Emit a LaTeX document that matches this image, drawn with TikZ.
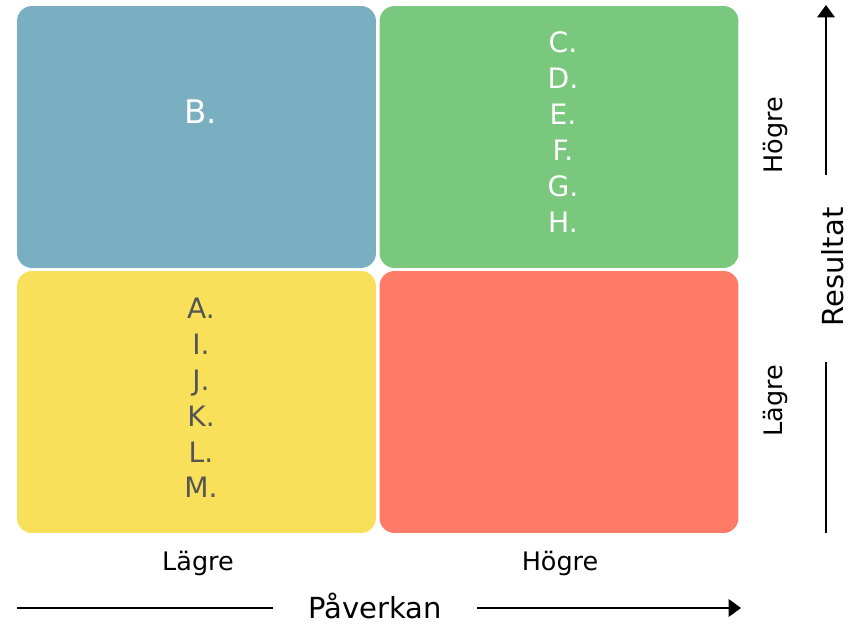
\documentclass[tikz,border=0pt]{standalone}
\usepackage{fontspec}
\setmainfont{DejaVu Sans}
\usetikzlibrary{arrows.meta}
\definecolor{quadblue}{RGB}{121,175,192}
\definecolor{quadgreen}{RGB}{122,200,126}
\definecolor{quadyellow}{RGB}{249,224,90}
\definecolor{quadred}{RGB}{254,123,103}
\definecolor{listgray}{RGB}{85,85,85}
\tikzset{
  quad/.style={rectangle, rounded corners=0.3cm, minimum width=7.18cm, minimum height=5.24cm, inner sep=0pt},
  items/.style={align=center, font=\fontsize{16}{20.4}\selectfont},
  axislabel/.style={font=\fontsize{14.5}{17}\selectfont},
  axistitle/.style={font=\fontsize{16.5}{19}\selectfont},
}
\begin{document}
\begin{tikzpicture}[x=0.02cm,y=-0.02cm]
  \useasboundingbox (0,0) rectangle (857,624);

  % quadrants
  \node[quad, fill=quadblue] (lowhigh) at (196.5,137) {};
  \node[quad, fill=quadgreen] (highhigh) at (559,137) {};
  \node[quad, fill=quadyellow] (lowlow) at (196.5,402) {};
  \node[quad, fill=quadred] (highlow) at (559,402) {};

  \node[items, text=white, font=\fontsize{18.5}{22}\selectfont] (listb) at (201,112) {B.};
  \node[items, text=white] (listc) at (563,132) {C.\\D.\\E.\\F.\\G.\\H.};
  \node[items, text=listgray] (lista) at (201,398) {A.\\I.\\J.\\K.\\L.\\M.};

  % y axis
  \coordinate (ytop) at (826,5);
  \coordinate (ymid1) at (826,175);
  \coordinate (ymid2) at (826,362);
  \coordinate (ybot) at (826,533);
  \draw[line width=0.75pt, -{Triangle[width=10pt,length=7pt]}] (ymid1) -- (ytop);
  \draw[line width=0.75pt] (ymid2) -- (ybot);
  \node[axistitle, rotate=90] (restitle) at (833,267) {Resultat};
  \node[axislabel, rotate=90] (reshigh) at (775,135) {Högre};
  \node[axislabel, rotate=90] (reslow) at (775,401) {Lägre};

  % x axis
  \coordinate (xleft) at (17,608);
  \coordinate (xmid1) at (273,608);
  \coordinate (xmid2) at (477,608);
  \coordinate (xright) at (741,608);
  \draw[line width=0.75pt] (xleft) -- (xmid1);
  \draw[line width=0.75pt, -{Triangle[width=10pt,length=7pt]}] (xmid2) -- (xright);
  \node[axistitle] (pavtitle) at (375,606) {Påverkan};
  \node[axislabel] (pavlow) at (198,563) {Lägre};
  \node[axislabel] (pavhigh) at (560,563) {Högre};
\end{tikzpicture}
\end{document}
